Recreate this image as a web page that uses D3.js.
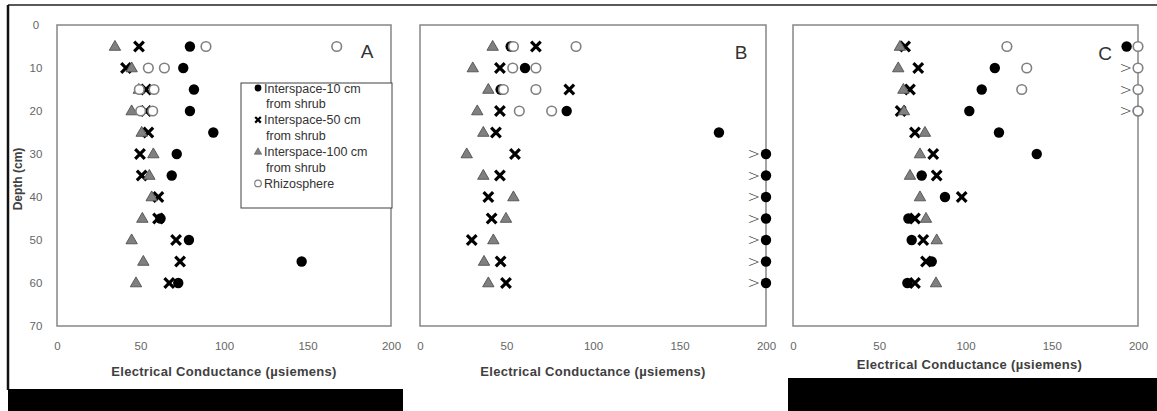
<!DOCTYPE html>
<html><head><meta charset="utf-8">
<script src="https://cdn.jsdelivr.net/npm/d3@7"></script>
<style>body{margin:0;background:#fff}svg{display:block}</style>
</head><body><svg id="c" width="1157" height="411"></svg>
<script>
// ---- data ----
const depths = [5,10,15,20,25,30,35,40,45,50,55,60];
const rhizoDepths = [5,10,15,20];
const xTicks = [0,50,100,150,200];
const yTicks = [0,10,20,30,40,50,60,70];
const legendLines = ["Interspace-10 cm","from shrub","Interspace-50 cm","from shrub","Interspace-100 cm","from shrub","Rhizosphere"];
const xTitle = "Electrical Conductance  (\u00b5siemens)";
const yTitle = "Depth (cm)";

const A_int10  = [79.6,75.6,82,79.6,93.6,71.7,68.7,null,62,79,146.5,72.6];
const A_int50  = [49.1,41.3,53.3,53.3,54.7,49.7,50.7,60.7,60.5,71.3,73.7,67.2];
const A_int100 = [34.7,44.7,49,44.7,50.7,57.7,55.3,56.7,51.1,44.7,51.7,47.3];
const A_rhizo1 = [89.2,54.7,49.3,50.1];
const A_rhizo2 = [167.5,64.3,58.1,57.3];

const B_int10  = [52.4,60.7,46.6,84.8,172.8,200,200,200,200,200,200,200];
const B_int50  = [67,46.2,86.3,46.2,43.9,54.9,46.2,39.5,41.4,29.9,46.6,49.7];
const B_int100 = [42,30.5,39.5,33.1,36.6,27,36.6,54,49.7,42.4,37,39.5];
const B_rhizo1 = [54,53.6,48.2,57.4];
const B_rhizo2 = [90.2,67,67,76.1];
const B_overDepths = [30,35,40,45,50,55,60];

const C_int10  = [193.4,117,109.4,102.2,119.4,141.3,74.6,88.1,66.9,68.8,80.4,66.3];
const C_int50  = [65,72.6,67.8,62.4,70.7,81.3,83.3,97.8,70.7,75.5,77.1,70.7];
const C_int100 = [62,61,64,64.3,76.5,73.6,67.8,73.6,77.1,83.3,null,82.9];
const C_rhizo1 = [124,135.5,132.6,200];
const C_rhizo2 = [200,200,200,200];
const C_overDepths = [10,15,20];

// ---- layout ----
const svg = d3.select("#c");
const FONT = "'Liberation Sans', Arial, sans-serif";
const y = d3.scaleLinear().domain([0,70]).range([25,326]);

const panels = [
  {label:"A", x0:57, x1:391, int10:A_int10, int50:A_int50, int100:A_int100, r1:A_rhizo1, r2:A_rhizo2, over10:[], overR:[], yAxis:true, titleY:372, lx:367, ly:58},
  {label:"B", x0:420, x1:766, int10:B_int10, int50:B_int50, int100:B_int100, r1:B_rhizo1, r2:B_rhizo2, over10:B_overDepths, overR:[], yAxis:false, titleY:372, lx:741, ly:59},
  {label:"C", x0:793, x1:1138, int10:C_int10, int50:C_int50, int100:C_int100, r1:C_rhizo1, r2:C_rhizo2, over10:[], overR:C_overDepths, yAxis:false, titleY:365, lx:1105, ly:60}
];

// frame lines
svg.append("line").attr("x1",8).attr("x2",1157).attr("y1",5).attr("y2",5).attr("stroke","#222").attr("stroke-width",1.5);
svg.append("line").attr("x1",8).attr("x2",8).attr("y1",5).attr("y2",390).attr("stroke","#111").attr("stroke-width",2.5);
// black bars
svg.append("rect").attr("x",8).attr("y",389).attr("width",395).attr("height",22).attr("fill","#000");
svg.append("rect").attr("x",788).attr("y",378).attr("width",369).attr("height",33).attr("fill","#000");

function xMark(g, cx, cy, s, w){
  const p = d3.path();
  p.moveTo(cx-s,cy-s); p.lineTo(cx+s,cy+s);
  p.moveTo(cx+s,cy-s); p.lineTo(cx-s,cy+s);
  g.append("path").attr("d",p.toString()).attr("stroke","#000").attr("stroke-width",w).attr("fill","none");
}
const tri = d3.symbol().type(d3.symbolTriangle).size(56);
const triSmall = d3.symbol().type(d3.symbolTriangle).size(24);

panels.forEach(P => {
  const x = d3.scaleLinear().domain([0,200]).range([P.x0,P.x1]);
  const g = svg.append("g");
  // plot box
  g.append("rect").attr("x",P.x0).attr("y",y(0)).attr("width",P.x1-P.x0).attr("height",y(70)-y(0))
    .attr("fill","none").attr("stroke","#868686").attr("stroke-width",1.5);
  // x axis
  const ax = g.append("g").attr("transform",`translate(0,${y(70)})`)
    .call(d3.axisBottom(x).tickValues(xTicks).tickSize(0).tickPadding(16));
  ax.select(".domain").remove();
  ax.selectAll("text").attr("font-family",FONT).attr("font-size",11.5).attr("fill","#666");
  if (P.yAxis){
    const ay = g.append("g").attr("transform",`translate(${P.x0},0)`)
      .call(d3.axisLeft(y).tickValues(yTicks).tickSize(0).tickPadding(0));
    ay.select(".domain").remove();
    ay.selectAll("text").attr("font-family",FONT).attr("font-size",11.5).attr("fill","#666")
      .attr("text-anchor","middle").attr("x",-21);
    g.append("text").attr("transform","translate(22,179) rotate(-90)").attr("text-anchor","middle")
      .attr("font-family",FONT).attr("font-size",12).attr("font-weight","bold").attr("fill","#404040").text(yTitle);
  }
  g.append("text").attr("x",(P.x0+P.x1)/2 + (P.label==="C"? 4 : 0)).attr("y",P.titleY+4).attr("text-anchor","middle")
    .attr("font-family",FONT).attr("font-size",13).attr("letter-spacing",0.3).attr("font-weight","bold").attr("fill","#404040").text(xTitle);
  g.append("text").attr("x",P.lx).attr("y",P.ly).attr("text-anchor","middle")
    .attr("font-family",FONT).attr("font-size",19).attr("fill","#333").text(P.label);

  // "greater than" markers
  P.over10.concat(P.overR).forEach(d => g.append("text").attr("x",x(200)-6).attr("y",y(d)+5).attr("text-anchor","end")
    .attr("font-family","'DejaVu Sans', sans-serif").attr("font-weight",300).attr("font-size",15).attr("fill","#333").text(">"));

  // series
  depths.forEach((d,i) => { const v=P.int10[i]; if(v==null) return;
    g.append("circle").attr("cx",x(v)).attr("cy",y(d)).attr("r",5.2).attr("fill","#000"); });
  depths.forEach((d,i) => { const v=P.int50[i]; if(v==null) return; xMark(g,x(v),y(d),4.8,3.2); });
  depths.forEach((d,i) => { const v=P.int100[i]; if(v==null) return;
    g.append("path").attr("d",tri).attr("transform",`translate(${x(v)},${y(d)+0.5})`)
      .attr("fill","#808080").attr("stroke","#505050").attr("stroke-width",0.9); });
  [P.r1,P.r2].forEach(arr => rhizoDepths.forEach((d,i) => { const v=arr[i]; if(v==null) return;
    g.append("circle").attr("cx",x(v)).attr("cy",y(d)).attr("r",4.8).attr("fill","#fff")
      .attr("stroke","#808080").attr("stroke-width",1.6); }));
});

// legend in panel A
const lg = svg.append("g");
lg.append("rect").attr("x",241).attr("y",83).attr("width",151).attr("height",125)
  .attr("fill","#fff").attr("stroke","#404040").attr("stroke-width",1);
legendLines.forEach((t,i) => {
  const cy = 88 + i*15.9;
  lg.append("text").attr("x", i%2 ? 266 : 264).attr("y",cy+4.5).attr("font-family",FONT).attr("font-size",12.5)
    .attr("fill","#333").text(t);
});
lg.append("circle").attr("cx",258).attr("cy",88).attr("r",3.4).attr("fill","#000");
xMark(lg,258,88+2*15.9,2.8,2.2);
lg.append("path").attr("d",triSmall).attr("transform",`translate(258,${88+4*15.9+0.5})`).attr("fill","#808080").attr("stroke","#555").attr("stroke-width",0.6);
lg.append("circle").attr("cx",258).attr("cy",88+6*15.9).attr("r",3.3).attr("fill","#fff").attr("stroke","#808080").attr("stroke-width",1.2);
</script></body></html>
